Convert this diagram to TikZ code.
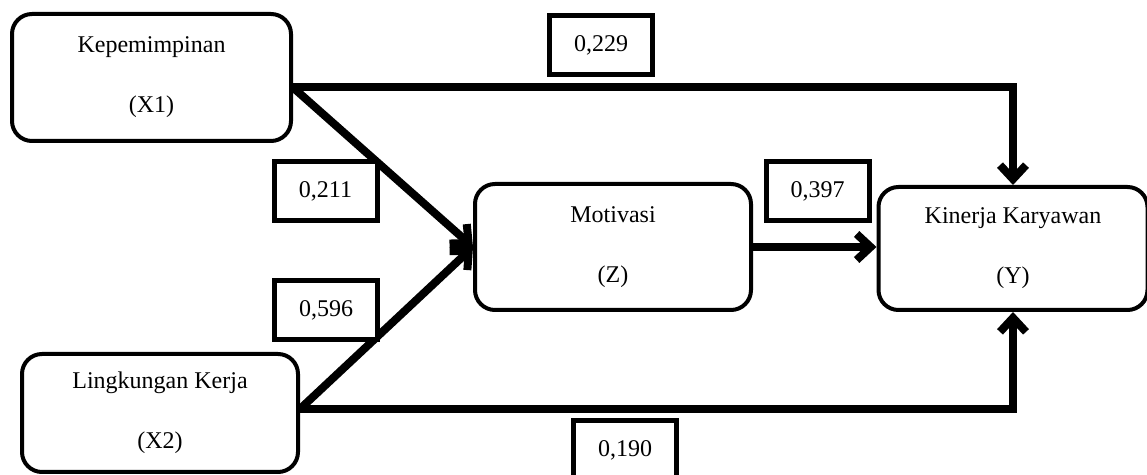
\documentclass[tikz,border=0pt,12pt]{standalone}
\usepackage{fontspec}
\setmainfont{Liberation Serif}
\usetikzlibrary{arrows.meta}
\tikzset{
  >={Straight Barb[length=7pt,width=13pt]},
  every node/.style={font=\normalsize},
  var/.style={draw,line width=2pt,rounded corners=10pt,fill=white,align=center,inner sep=2pt},
  coef/.style={draw,line width=2.5pt,fill=white,minimum width=51.5pt,minimum height=29.5pt,inner sep=2pt},
  link/.style={->,line width=4pt},
}

\begin{document}
\begin{tikzpicture}[x=0.5pt,y=-0.5pt]
  \useasboundingbox (0,0) rectangle (1147,475);

  % Variables
  \node[var,minimum width=139.5pt,minimum height=63.5pt] (x1) at (151.5,77.5) {Kepemimpinan\\[15.5pt](X1)};
  \node[var,minimum width=138pt,minimum height=59pt] (x2) at (160,413) {Lingkungan Kerja\\[15.5pt](X2)};
  \node[var,minimum width=138pt,minimum height=63pt] (z) at (613,247) {Motivasi\\[15.5pt](Z)};
  \node[var,minimum width=134.5pt,minimum height=61.5pt] (y) at (1013,248.5) {Kinerja Karyawan\\[15.5pt](Y)};

  % Paths
  \draw[link] ([yshift=-5pt]x1.east) -| (y.north);
  \draw[link] ([yshift=-5pt]x1.east) -- (z.west);
  \draw[link] ([yshift=2pt]x2.east) -- (z.west);
  \draw[link] ([yshift=2pt]x2.east) -| (y.south);
  \draw[link] (z.east) -- (z.east -| y.west);

  % Coefficients
  \node[coef] (c229) at (601,45) {0,229};
  \node[coef] (c211) at (325.5,191) {0,211};
  \node[coef] (c596) at (326,310) {0,596};
  \node[coef] (c397) at (817.5,191) {0,397};
  \node[coef] (c190) at (625,450) {0,190};
\end{tikzpicture}
\end{document}
